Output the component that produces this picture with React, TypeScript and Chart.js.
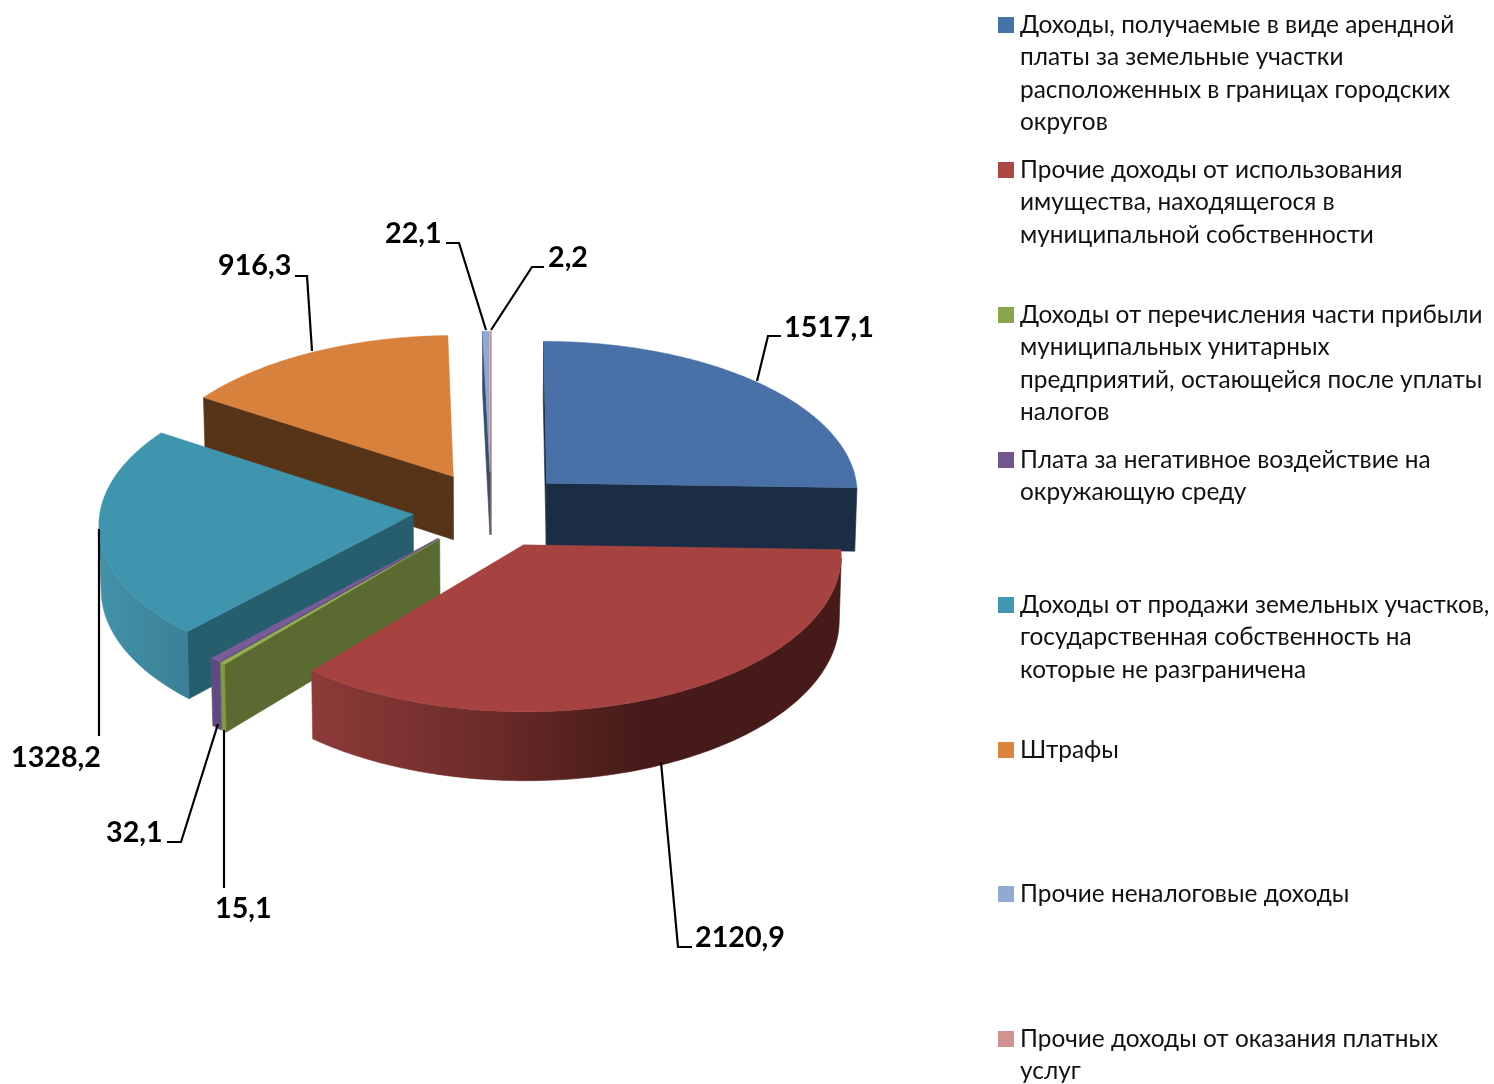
import React, { useEffect, useRef } from "react";
import { Chart, registerables } from "chart.js";

Chart.register(...registerables);

const categories: string[][] = [
  ["Доходы, получаемые в виде арендной", "платы за земельные участки", "расположенных в границах городских", "округов"],
  ["Прочие доходы от использования", "имущества, находящегося в", "муниципальной собственности"],
  ["Доходы от перечисления части прибыли", "муниципальных унитарных", "предприятий, остающейся после уплаты", "налогов"],
  ["Плата за негативное воздействие на", "окружающую среду"],
  ["Доходы от продажи земельных участков,", "государственная собственность на", "которые не разграничена"],
  ["Штрафы"],
  ["Прочие неналоговые доходы"],
  ["Прочие доходы от оказания платных", "услуг"],
];
const values = [1517.1, 2120.9, 15.1, 32.1, 1328.2, 916.3, 22.1, 2.2];
const valueLabels = ["1517,1", "2120,9", "15,1", "32,1", "1328,2", "916,3", "22,1", "2,2"];
const swatchColors = ["#4572a7", "#aa4643", "#89a54e", "#71588f", "#4198af", "#db843d", "#93a9cf", "#d19392"];
const topColors = ["#4971a7", "#a64341", "#93b152", "#775c98", "#4095ae", "#d8813c", "#90a9d2", "#d9a09e"];
const cutColors = ["#1b2d45", "#451a18", "#5a6a30", "#5e4779", "#265e6e", "#573318", "#3c4c68", "#8a5a5a"];
const wallStops: string[][] = [
  ["#2b4468", "#1b2d45"],
  ["#8c3b39", "#6e2c2a", "#451a18", "#451a18"],
  ["#7f9a44", "#7f9a44"],
  ["#604a80", "#604a80"],
  ["#4392a9", "#3e899f", "#3b7f95"],
  ["#8a5226", "#573318"],
  ["#6f86ab", "#3c4c68"],
  ["#b58482", "#8a5a5a"],
];
const wallRanges: number[][] = [
  [545, 860], [312, 810], [215, 230], [205, 225], [99, 190], [200, 455], [480, 495], [485, 495],
];

// Leader lines and label anchors (annotation layout, not data marks)
const leaders: number[][][] = [
  [[781, 336], [768, 336], [757, 381]],
  [[692, 947], [678, 947], [661, 762]],
  [[224, 888], [224, 730]],
  [[167, 842], [181, 842], [218, 724]],
  [[99, 736], [99, 529]],
  [[295, 276], [307, 276], [312, 351]],
  [[446, 243], [459, 243], [486, 330]],
  [[544, 267], [532, 267], [491, 330]],
];
const labelAnchors: number[][] = [
  [784, 328], [695, 938], [215, 909], [106, 833], [11, 758], [218, 266], [385, 234], [548, 258],
];
const legendRows = [25, 170, 315, 460, 605, 750, 894, 1039];

const view = { cx: 491, cy: 509.5, c: 313, a: 153, b: 0.058, depth: 64, taper: 0.006, explode: 0.25 };

function project(X: number, Y: number, z: number): [number, number] {
  const w = 1 / (1 - view.b * Y);
  return [
    view.cx + view.c * X * w * (1 - view.taper * z),
    view.cy + view.a * Y * w + view.depth * w * z,
  ];
}

function shoelace(pts: [number, number][]) {
  let s = 0;
  for (let i = 0; i < pts.length; i++) {
    const [x1, y1] = pts[i];
    const [x2, y2] = pts[(i + 1) % pts.length];
    s += x1 * y2 - x2 * y1;
  }
  return s;
}

function fillPoly(ctx: CanvasRenderingContext2D, pts: [number, number][], style: any, edge = 0.6) {
  ctx.beginPath();
  pts.forEach(([x, y], i) => (i ? ctx.lineTo(x, y) : ctx.moveTo(x, y)));
  ctx.closePath();
  ctx.fillStyle = style;
  ctx.strokeStyle = style;
  ctx.lineWidth = edge;
  ctx.fill();
  ctx.stroke();
}

const tiltedPie = {
  id: "tiltedPie",
  beforeDatasetsDraw(chart: any) {
    const ctx: CanvasRenderingContext2D = chart.ctx;
    const arcs = chart.getDatasetMeta(0).data;
    const slices = arcs.map((arc: any, i: number) => {
      const t1 = arc.startAngle + Math.PI / 2;
      const t2 = arc.endAngle + Math.PI / 2;
      const mid = (t1 + t2) / 2;
      return { i, t1, t2, ox: view.explode * Math.sin(mid), oy: -view.explode * Math.cos(mid) };
    });
    const order = [...slices].sort((p: any, q: any) => p.oy - q.oy);
    ctx.save();
    ctx.lineJoin = "round";
    for (const s of order) {
      const rim = (t: number, z: number) => project(s.ox + Math.sin(t), s.oy - Math.cos(t), z);
      const apex = (z: number) => project(s.ox, s.oy, z);
      const startFace = [apex(0), rim(s.t1, 0), rim(s.t1, 1), apex(1)] as [number, number][];
      const endFace = [apex(0), rim(s.t2, 0), rim(s.t2, 1), apex(1)] as [number, number][];
      if (shoelace(startFace) < 0) fillPoly(ctx, startFace, cutColors[s.i]);
      if (shoelace(endFace) > 0) fillPoly(ctx, endFace, cutColors[s.i]);
      const n = Math.max(4, Math.ceil(((s.t2 - s.t1) * 180) / Math.PI));
      const [gx0, gx1] = wallRanges[s.i];
      const grad = ctx.createLinearGradient(gx0, 0, gx1, 0);
      wallStops[s.i].forEach((col, k, all) => grad.addColorStop(k / (all.length - 1), col));
      const upper: [number, number][] = [];
      const lower: [number, number][] = [];
      for (let k = 0; k < n; k++) {
        const a = s.t1 + ((s.t2 - s.t1) * k) / n;
        const b = s.t1 + ((s.t2 - s.t1) * (k + 1)) / n;
        const quad = [rim(a, 0), rim(b, 0), rim(b, 1), rim(a, 1)] as [number, number][];
        if (shoelace(quad) < 0) {
          if (!upper.length) {
            upper.push(rim(a, 0));
            lower.push(rim(a, 1));
          }
          upper.push(rim(b, 0));
          lower.push(rim(b, 1));
        }
      }
      if (upper.length) fillPoly(ctx, [...upper, ...lower.reverse()], grad);
      const top: [number, number][] = [apex(0)];
      for (let k = 0; k <= n * 2; k++) top.push(rim(s.t1 + ((s.t2 - s.t1) * k) / (n * 2), 0));
      fillPoly(ctx, top, topColors[s.i], 0.4);
    }
    ctx.restore();
    return false;
  },
  afterDraw(chart: any) {
    const ctx: CanvasRenderingContext2D = chart.ctx;
    ctx.save();
    ctx.strokeStyle = "#000";
    ctx.lineWidth = 2.2;
    leaders.forEach((line) => {
      ctx.beginPath();
      line.forEach(([x, y], i) => (i ? ctx.lineTo(x, y) : ctx.moveTo(x, y)));
      ctx.stroke();
    });
    ctx.fillStyle = "#000";
    ctx.textBaseline = "middle";
    ctx.textAlign = "left";
    ctx.font = "bold 28.7px Lato";
    valueLabels.forEach((t, i) => ctx.fillText(t, labelAnchors[i][0], labelAnchors[i][1]));
    ctx.font = "24.4px Lato";
    categories.forEach((lines, i) => {
      ctx.fillStyle = swatchColors[i];
      ctx.fillRect(998, legendRows[i] - 8, 16, 16);
      ctx.fillStyle = "#111";
      lines.forEach((t, k) => ctx.fillText(t, 1020, legendRows[i] + k * 32.4));
    });
    ctx.restore();
  },
};

export default function App() {
  const ref = useRef<HTMLCanvasElement>(null);
  useEffect(() => {
    const chart = new Chart(ref.current!, {
      type: "pie",
      data: {
        labels: categories.map((c) => c.join(" ")),
        datasets: [{ data: values, backgroundColor: swatchColors, borderWidth: 0 }],
      },
      options: {
        responsive: false,
        animation: false,
        events: [],
        plugins: { legend: { display: false }, tooltip: { enabled: false } },
      },
      plugins: [tiltedPie],
    } as any);
    return () => chart.destroy();
  }, []);
  return (
    <div style={{ position: "fixed", left: 0, top: 0, width: 1494, height: 1084, background: "#fff" }}>
      <canvas ref={ref} width={1494} height={1084} style={{ display: "block" }} />
    </div>
  );
}
